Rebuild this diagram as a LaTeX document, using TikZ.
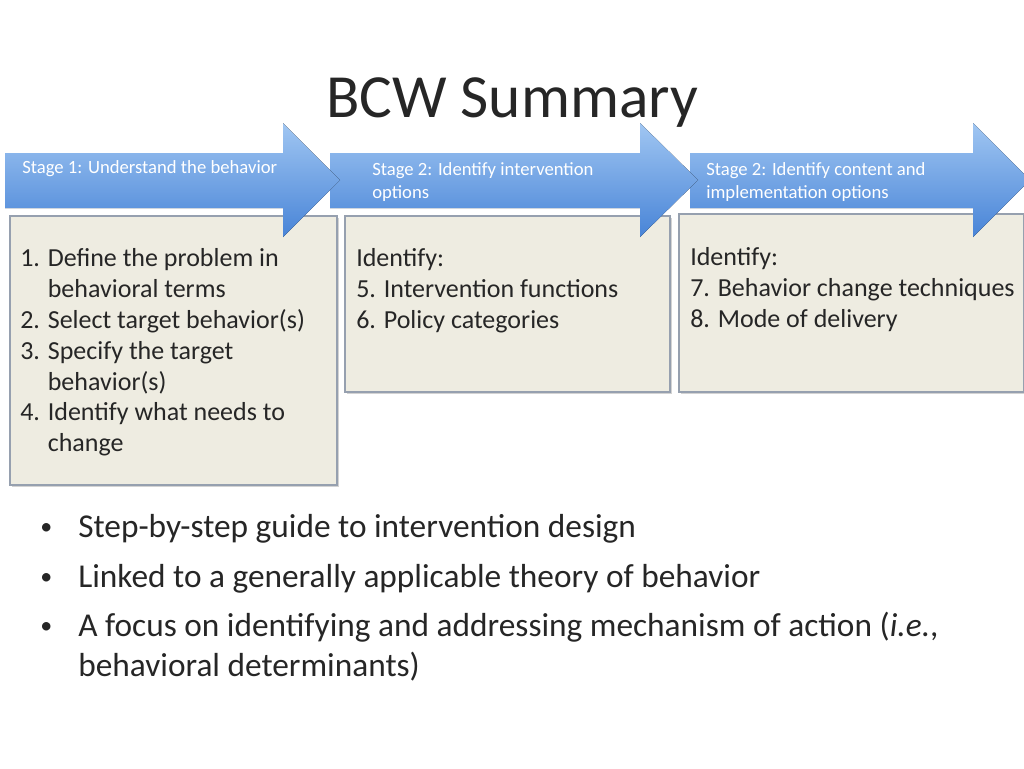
\documentclass[tikz,border=0pt]{standalone}
\usepackage{fontspec}
\setmainfont{Carlito}
\usetikzlibrary{positioning,shadows}
\definecolor{stagetop}{RGB}{160, 198, 242}
\definecolor{stagebot}{RGB}{72, 132, 215}
\definecolor{boxfill}{RGB}{238, 236, 225}
\definecolor{boxline}{RGB}{150, 160, 175}
\tikzset{
  stagearrow/.style={top color=stagetop, bottom color=stagebot, draw=none},
  stagetext/.style={anchor=north west, white, font=\fontsize{14}{17.5}\selectfont, align=left, inner sep=0pt},
  stepbox/.style={fill=boxfill, draw=boxline, line width=0.8pt, drop shadow={shadow xshift=1.5pt, shadow yshift=-1.5pt, opacity=0.35}},
  boxtext/.style={anchor=north west, font=\fontsize{19.5}{23.2}\selectfont, align=left, inner sep=0pt, text=black!85},
  bullettext/.style={anchor=base west, font=\fontsize{25}{30}\selectfont, inner sep=0pt, text=black!85}
}
\newcommand{\stagearrowpath}[3]{(#1,153) -- (#2,153) -- (#2,123) -- (#3,180) -- (#2,237) -- (#2,208) -- (#1,208) -- cycle}
\begin{document}
\begin{tikzpicture}[x=0.75pt, y=-0.75pt]
  \useasboundingbox (0,0) rectangle (1024,768);

  % Title
  \node[font=\fontsize{46}{52}\selectfont, anchor=base, text=black!85] (title) at (512,117) {BCW Summary};

  % Boxes
  \draw[stepbox] (10,216) rectangle (337,485);
  \draw[stepbox] (345,216) rectangle (670,392);
  \draw[stepbox] (679,214) rectangle (1024,392);
  \node[boxtext] (steps1) at (20,248) {1. Define the problem in\\\phantom{1. }behavioral terms\\2. Select target behavior(s)\\3. Specify the target\\\phantom{3. }behavior(s)\\4. Identify what needs to\\\phantom{4. }change};
  \node[boxtext] (steps2) at (356,248) {Identify:\\5. Intervention functions\\6. Policy categories};
  \node[boxtext] (steps3) at (690,247) {Identify:\\7. Behavior change techniques\\8. Mode of delivery};

  % Stage arrows (drawn right to left so heads overlap)
  \fill[stagearrow] \stagearrowpath{690}{973}{1030};
  \fill[stagearrow] \stagearrowpath{330}{640}{698};
  \fill[stagearrow] \stagearrowpath{5}{283}{340};
  \node[stagetext] (stage1) at (22,160) {Stage 1: Understand the behavior};
  \node[stagetext] (stage2) at (372,162) {Stage 2: Identify intervention\\options};
  \node[stagetext] (stage3) at (706,162) {Stage 2: Identify content and\\implementation options};

  % Bullets
  \foreach \y/\txt in {537/Step-by-step guide to intervention design,
                       587/Linked to a generally applicable theory of behavior,
                       636/{A focus on identifying and addressing mechanism of action (\textit{i.e.},}} {
    \node[bullettext, font=\fontsize{18}{20}\selectfont] at (40,\y-3) {•};
    \node[bullettext] at (78,\y) {\txt};
  }
  \node[bullettext] (lastline) at (78,676) {behavioral determinants)};
\end{tikzpicture}
\end{document}
